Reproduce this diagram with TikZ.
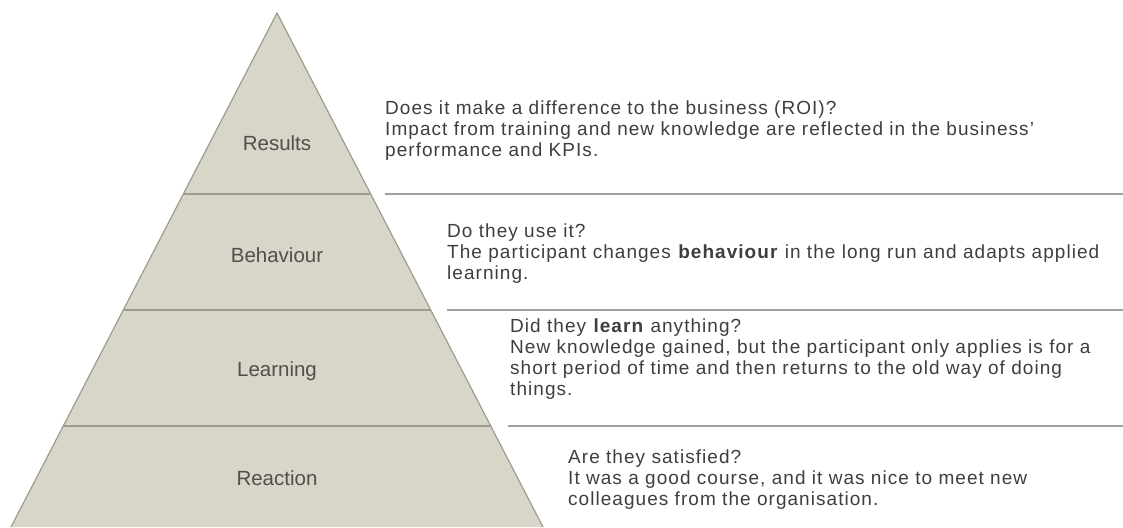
\documentclass[tikz,border=0pt]{standalone}
\usepackage{fontspec}
\setmainfont{Liberation Sans}
\definecolor{pyrfill}{RGB}{216,214,201}
\definecolor{pyredge}{RGB}{158,156,142}
\definecolor{rulegray}{RGB}{160,160,160}
\definecolor{txtgray}{RGB}{62,62,62}
\definecolor{lblgray}{RGB}{80,80,76}
\begin{document}
\begin{tikzpicture}[x=1pt,y=-1pt,
    lbl/.style={anchor=base,text=lblgray,font=\fontsize{20.5}{24}\selectfont},
    desc/.style={anchor=base west,align=left,inner sep=0pt,text=txtgray,
      font=\fontsize{19}{20.7}\selectfont\addfontfeatures{LetterSpace=5.5}},
    sep/.style={draw=rulegray,line width=2pt}]
  \useasboundingbox (0,0) rectangle (1123,527);
  % pyramid, cut off by the lower border
  \coordinate (top) at (277,13);
  \coordinate (bl) at (11,527);
  \coordinate (br) at (543,527);
  \fill[pyrfill] (top) -- (br) -- (bl) -- cycle;
  \draw[pyredge,line width=1.2pt,line join=round] (bl) -- (top) -- (br);
  \begin{scope}
    \clip (top) -- (br) -- (bl) -- cycle;
    \foreach \y in {194,310,426}
      \draw[pyredge,line width=2.2pt] (0,\y) -- (600,\y);
  \end{scope}

  \node[lbl] (res) at (277,150) {Results};
  \node[lbl] (beh) at (277,262) {Behaviour};
  \node[lbl] (lrn) at (277,376) {Learning};
  \node[lbl] (rea) at (277,485) {Reaction};

  % separators on the right
  \foreach \x/\y in {385/194,447/310,508/426}
    \draw[sep] (\x,\y) -- (1123,\y);

  % base is the last line of each block
  \node[desc] (resdesc) at (385,156) {Does it make a difference to the business (ROI)?\\
    Impact from training and new knowledge are reflected in the business'\\
    performance and KPIs.};
  \node[desc] (behdesc) at (447,279) {Do they use it?\\
    The participant changes \textbf{behaviour} in the long run and adapts applied\\
    learning.};
  \node[desc] (lrndesc) at (510,395) {Did they \textbf{learn} anything?\\
    New knowledge gained, but the participant only applies is for a\\
    short period of time and then returns to the old way of doing\\
    things.};
  \node[desc] (readesc) at (568,505) {Are they satisfied?\\
    It was a good course, and it was nice to meet new\\
    colleagues from the organisation.};
\end{tikzpicture}
\end{document}
